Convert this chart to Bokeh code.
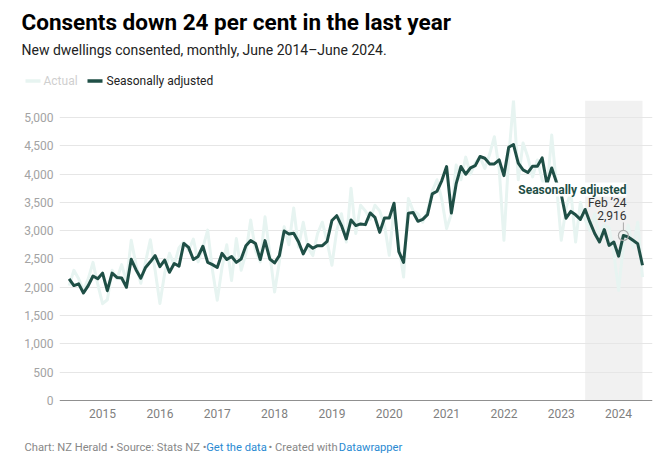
import pandas as pd
from bokeh.plotting import figure
from bokeh.models import (Label, BoxAnnotation, Span, FixedTicker, NumeralTickFormatter,
                          ColumnDataSource, Range1d)
from bokeh.embed import file_html
from bokeh.resources import INLINE

# ---------------- data ----------------
months = pd.date_range("2014-06-01", "2024-06-01", freq="MS")

seasonally_adjusted = [
    2150, 2030, 2060, 1900, 2030, 2200, 2150, 2250, 1940, 2250, 2175, 2165,
    2000, 2495, 2310, 2160, 2350, 2450, 2560, 2365, 2480, 2265, 2420, 2375,
    2775, 2705, 2490, 2545, 2725, 2440, 2400, 2350, 2600, 2490, 2545, 2440,
    2500, 2735, 2825, 2775, 2490, 2825, 2500, 2430, 2560, 2995, 2940, 2955,
    2805, 2590, 2755, 2690, 2735, 2735, 2810, 3180, 3265, 3090, 2855, 3190,
    3090, 3120, 3107, 3313, 3237, 2970, 3225, 3225, 3485, 2630, 2440, 3308,
    3320, 3166, 3200, 3284, 3650, 3697, 3885, 4133, 3313, 3826, 4133, 3997,
    4109, 4150, 4310, 4280, 4180, 4180, 4250, 3973, 4474, 4522, 4192, 4074,
    4027, 4139, 4139, 4286, 3826, 4109, 3856, 3640, 3220, 3340, 3280, 3200,
    3375, 3150, 2950, 2800, 3020, 2740, 2800, 2550, 2916, 2890, 2830, 2770,
    2390,
]

actual = [
    2030, 2300, 2150, 1950, 2150, 2440, 2050, 1710, 1780, 2300, 2150, 2400,
    2100, 2830, 2400, 2070, 2450, 2840, 2300, 1715, 2250, 2600, 2400, 2700,
    2800, 2650, 2850, 2450, 2700, 3010, 2300, 1770, 2350, 2750, 2120, 2860,
    2300, 2600, 3190, 2650, 2450, 3245, 2600, 1915, 2450, 3070, 2750, 3400,
    2710, 3150, 2700, 2560, 2950, 3150, 2800, 2390, 3000, 3300, 2800, 3750,
    2950, 3450, 3350, 3200, 3450, 3350, 3100, 2565, 3400, 2750, 2180, 3570,
    3350, 3300, 3150, 3350, 3700, 3900, 3550, 3040, 3300, 4160, 3900, 4300,
    4000, 4200, 4300, 4100, 4350, 4660, 4100, 2830, 4300, 5300, 3900, 4550,
    4300, 3950, 4250, 3900, 3700, 4690, 3800, 2830, 3400, 3700, 2800, 3500,
    3200, 3000, 3300, 2900, 3100, 3050, 2600, 1945, 2750, 3100, 2700, 3150,
    2180,
]

year_ticks = [2015, 2016, 2017, 2018, 2019, 2020, 2021, 2022, 2023, 2024]
y_ticks = [0, 500, 1000, 1500, 2000, 2500, 3000, 3500, 4000, 4500, 5000]

highlight_label = "Feb ’24"
highlight_index = 116          # Feb 2024
shade_start_index = 108        # Jun 2023

# ---------------- styling ----------------
FONT = "Roboto"
SA_COLOR = "#1f4f46"
ACTUAL_COLOR = "#e7f4f1"
W = 669
HEAD_H, MAIN_H, FOOT_H = 100, 330, 43


def bare(height, y_top, y_bottom):
    f = figure(width=W, height=height, output_backend="svg", toolbar_location=None,
               x_range=Range1d(0, W), y_range=Range1d(y_bottom, y_top),
               x_axis_type=None, y_axis_type=None,
               min_border_left=0, min_border_right=0, min_border_top=0, min_border_bottom=0)
    f.outline_line_color = None
    f.xgrid.grid_line_color = None
    f.ygrid.grid_line_color = None
    f.background_fill_color = "white"
    f.border_fill_color = "white"
    return f


def lab(f, text, px, py, size, color, style="normal", align="left", **kw):
    l = Label(x=px, y=py, text=text, text_font=FONT, text_font_size=f"{size}px",
              text_color=color, text_font_style=style, text_align=align,
              text_baseline="middle", **kw)
    f.add_layout(l)
    return l


# ---------------- header ----------------
head = bare(HEAD_H, 0, HEAD_H)
lab(head, "Consents down 24 per cent in the last year", 21, 21, 22.5, "#000000",
    style="bold")
lab(head, "New dwellings consented, monthly, June 2014–June 2024.", 21, 49.5, 14,
    "#222222")
head.segment(x0=[25], y0=[80.5], x1=[40], y1=[80.5], line_color=ACTUAL_COLOR, line_width=3.5)
lab(head, "Actual", 43, 80, 12, "#cfcfcf")
head.segment(x0=[87], y0=[80.5], x1=[102], y1=[80.5], line_color=SA_COLOR, line_width=3.5)
lab(head, "Seasonally adjusted", 106, 80, 12, "#222222")

# ---------------- main chart ----------------
x = [d.year + (d.month - 1) / 12 for d in months]
src = ColumnDataSource(dict(x=x, sa=seasonally_adjusted, actual=actual))

p = figure(width=W, height=MAIN_H, output_backend="svg", toolbar_location=None,
           x_range=(2014.249, 2024.591), y_range=(0, 5300),
           min_border_left=59, min_border_right=17, min_border_top=0, min_border_bottom=30)
p.outline_line_color = None
p.background_fill_color = "white"
p.border_fill_color = "white"
p.xgrid.grid_line_color = None
p.ygrid.grid_line_color = "#e6e6e6"
p.ygrid.grid_line_width = 1

p.yaxis.ticker = FixedTicker(ticks=y_ticks)
p.yaxis.formatter = NumeralTickFormatter(format="0,0")
p.xaxis.ticker = FixedTicker(ticks=year_ticks)
p.xaxis.formatter = NumeralTickFormatter(format="0")
for ax in (p.xaxis[0], p.yaxis[0]):
    ax.axis_line_color = None
    ax.major_tick_line_color = None
    ax.minor_tick_line_color = None
    ax.major_tick_out = 0
    ax.major_tick_in = 0
    ax.major_label_text_font = FONT
    ax.major_label_text_font_size = "12px"
p.yaxis.major_label_text_color = "#a3a3a3"
p.yaxis.major_label_standoff = 6
p.xaxis.major_label_text_color = "#7f7f7f"
p.xaxis.major_label_standoff = 8

# shaded last year
p.add_layout(BoxAnnotation(left=x[shade_start_index], right=x[-1], fill_color="#f1f1f1",
                           fill_alpha=1, line_color=None, level="image"))
# baseline
p.add_layout(Span(location=0, dimension="width", line_color="#222222", line_width=1.2))

# series
p.line("x", "actual", source=src, line_color=ACTUAL_COLOR, line_width=3, line_join="round")
p.line("x", "sa", source=src, line_color=SA_COLOR, line_width=3, line_join="round")

# highlight marker
scale = 300 / 5300
hx, hy = x[highlight_index], seasonally_adjusted[highlight_index]
p.segment(x0=[hx], y0=[hy + 5 / scale], x1=[hx], y1=[hy + 13 / scale],
          line_color="#aaaaaa", line_width=1)
p.scatter(x=[hx], y=[hy], size=10, fill_color=None, line_color="#aaaaaa", line_width=1.2)


def slab(text, px, py, size, color, style="normal", **kw):
    # page coordinates -> frame screen coordinates (frame: left 59, bottom at page 400)
    l = Label(x=px - 59, y=400 - py, x_units="screen", y_units="screen", text=text,
              text_font=FONT, text_font_size=f"{size}px", text_color=color,
              text_font_style=style, text_align="right", text_baseline="middle", **kw)
    p.add_layout(l)
    return l


slab("Seasonally adjusted", 626, 189, 12, SA_COLOR, style="bold",
     background_fill_color="white", background_fill_alpha=1)
slab(highlight_label, 626, 202, 12, "#333333")
slab(f"{hy:,}", 626, 215, 12, "#333333")

# ---------------- footer ----------------
foot = bare(FOOT_H, 430, 430 + FOOT_H)
lab(foot, "Chart: NZ Herald • Source: Stats NZ •", 24, 447, 11.2, "#888888")
lab(foot, "Get the data", 205.7, 447, 11.2, "#2a8ad2")
lab(foot, "• Created with", 268, 447, 11.2, "#888888")
lab(foot, "Datawrapper", 338.3, 447, 11.2, "#2a8ad2")

open("out.html", "w").write(file_html([head, p, foot], INLINE))
